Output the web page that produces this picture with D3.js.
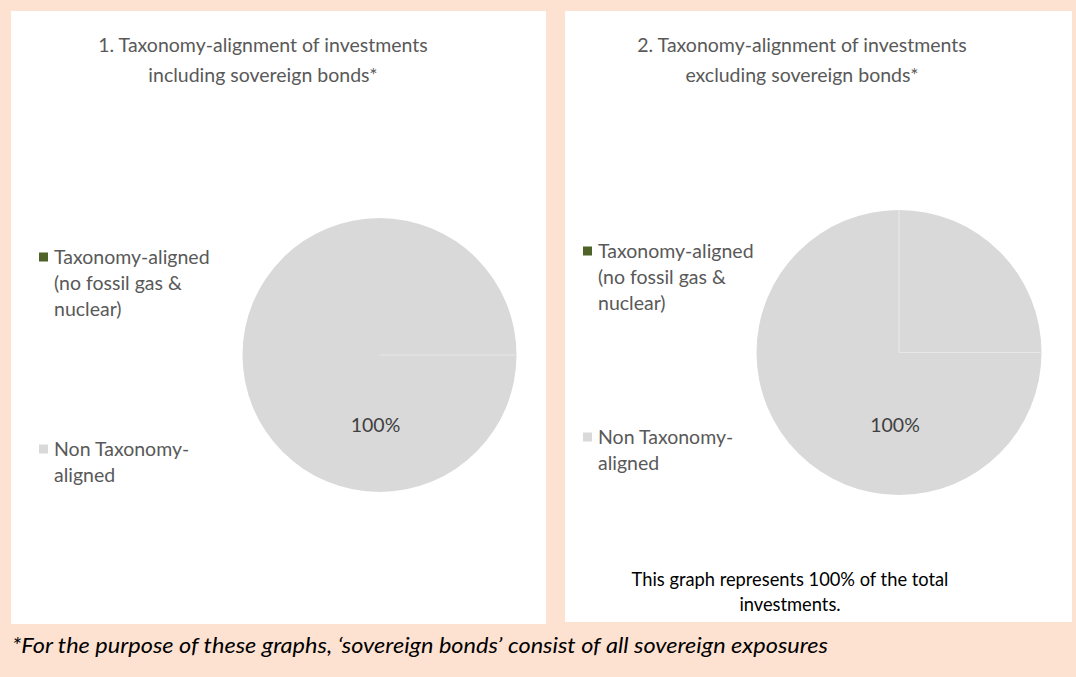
<!DOCTYPE html>
<html><head><meta charset="utf-8">
<script src="https://cdn.jsdelivr.net/npm/d3@7"></script>
<style>
html,body{margin:0;padding:0;background:#FEE2D1;}
svg{display:block;font-family:Lato,"Open Sans",sans-serif;}
</style></head>
<body>
<svg id="c" width="1076" height="677"></svg>
<script>
// ---- data ----
const categories = ["Taxonomy-aligned (no fossil gas & nuclear)", "Non Taxonomy-aligned"];
const legendLines = [["Taxonomy-aligned", "(no fossil gas &", "nuclear)"], ["Non Taxonomy-", "aligned"]];
const colors = ["#4F6228", "#D9D9D9"];
const chart1Values = [0, 100];
const chart2Values = [0, 100];
const chartTitles = [
  ["1. Taxonomy-alignment of investments", "including sovereign bonds*"],
  ["2. Taxonomy-alignment of investments", "excluding sovereign bonds*"]
];
const valueLabels = ["100%", "100%"];
const chart1Seams = [90];      // degrees, clockwise from 12 o'clock
const chart2Seams = [0, 90];
const noteLines = ["This graph represents 100% of the total", "investments."];
const footnote = "*For the purpose of these graphs, \u2018sovereign bonds\u2019 consist of all sovereign exposures";

const svg = d3.select("#c");

const panels = [
  {x: 11, y: 11, w: 535, h: 613, cx: 379.5, cy: 355, r: 137, values: chart1Values, seams: chart1Seams,
   titleX: 263, titleY: [52, 82], legX: 39, legY: [[257, 283, 309], [449, 475]], labelY: 432, start: 90},
  {x: 565, y: 11, w: 507, h: 611, cx: 899, cy: 352.5, r: 142.5, values: chart2Values, seams: chart2Seams,
   titleX: 802, titleY: [52, 82], legX: 583, legY: [[251, 277, 303], [437, 463]], labelY: 432, start: 0}
];

panels.forEach((p, i) => {
  svg.append("rect").attr("x", p.x).attr("y", p.y).attr("width", p.w).attr("height", p.h).attr("fill", "#fff");

  // title
  const t = svg.append("text").attr("text-anchor", "middle").attr("fill", "#595959").attr("font-size", 19.5);
  chartTitles[i].forEach((line, j) => t.append("tspan").attr("x", p.titleX).attr("y", p.titleY[j]).text(line));

  // pie
  const g = svg.append("g").attr("transform", `translate(${p.cx},${p.cy})`);
  const startRad = p.start * Math.PI / 180;
  const pie = d3.pie().sort(null).startAngle(startRad).endAngle(startRad + 2 * Math.PI);
  const arc = d3.arc().innerRadius(0).outerRadius(p.r);
  g.selectAll("path").data(pie(p.values)).join("path")
    .attr("d", arc).attr("fill", (d, k) => colors[k]);
  // slice seams
  const ang = d3.scaleLinear().domain([0, 360]).range([0, 2 * Math.PI]);
  g.selectAll("line.seam").data(p.seams).join("line").attr("class", "seam")
    .attr("x1", 0).attr("y1", 0)
    .attr("x2", d => p.r * Math.sin(ang(d)))
    .attr("y2", d => -p.r * Math.cos(ang(d)))
    .attr("stroke", "#E8E8E8").attr("stroke-width", 1.2);

  svg.append("text").attr("x", p.cx - 4).attr("y", p.labelY).attr("text-anchor", "middle")
    .attr("fill", "#404040").attr("font-size", 19.5).text(valueLabels[i]);

  // legend
  categories.forEach((c, k) => {
    svg.append("rect").attr("x", p.legX).attr("y", p.legY[k][0] - 4.5).attr("width", 9).attr("height", 9).attr("fill", colors[k]);
    const lt = svg.append("text").attr("fill", "#595959").attr("font-size", 19.5);
    legendLines[k].forEach((line, j) => lt.append("tspan").attr("x", p.legX + 15).attr("y", p.legY[k][j] + 7).text(line));
  });
});

// note in panel 2
const nt = svg.append("text").attr("text-anchor", "middle").attr("fill", "#000").attr("font-size", 18.3);
noteLines.forEach((line, j) => nt.append("tspan").attr("x", 790).attr("y", 586 + j * 25).text(line));

// footnote
svg.append("text").attr("x", 12).attr("y", 653).attr("font-style", "italic").attr("font-size", 21)
  .attr("textLength", 816).attr("lengthAdjust", "spacingAndGlyphs")
  .attr("fill", "#000").text(footnote);
</script>
</body></html>
